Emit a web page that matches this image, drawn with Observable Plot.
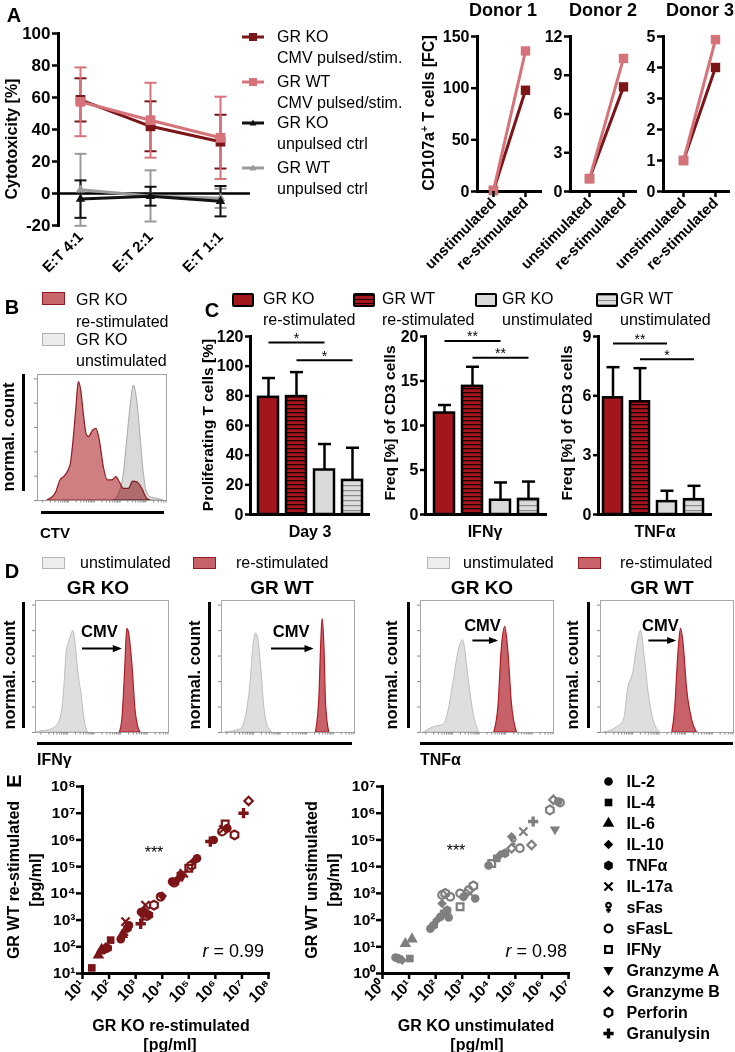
<!DOCTYPE html>
<html><head><meta charset="utf-8">
<script src="https://cdn.jsdelivr.net/npm/d3@7"></script>
<script src="https://cdn.jsdelivr.net/npm/@observablehq/plot@0.6"></script>
<style>
body{margin:0;background:#fff;}
#fig{position:relative;width:735px;height:1052px;font-family:"Liberation Sans",Arial,Helvetica,sans-serif;color:#000;overflow:hidden;background:#fff}
#fig svg.plot, #fig > svg{position:absolute}
</style></head>
<body>
<svg width="0" height="0" style="position:absolute">
<defs>
<pattern id="hatchRed" width="6" height="4" patternUnits="userSpaceOnUse">
<rect width="6" height="4" fill="#a3161c"/><rect y="0" width="6" height="1.3" fill="#200000"/>
</pattern>
<pattern id="hatchGray" width="6" height="5" patternUnits="userSpaceOnUse">
<rect width="6" height="5" fill="#dcdcdc"/><rect y="0" width="6" height="1.2" fill="#8a8a8a"/>
</pattern>
</defs></svg>
<div id="fig"></div>
<script>
// ================= DATA =================
// A (left): cytotoxicity
const etRatios = ["E:T 4:1", "E:T 2:1", "E:T 1:1"];
const cytoSeries = ["GR KO CMV pulsed/stim.", "GR WT CMV pulsed/stim.", "GR KO unpulsed ctrl", "GR WT unpulsed ctrl"];
const koCmvMean = [58.5, 42, 32.4];
const koCmvSd = [13.5, 15.6, 16.8];
const wtCmvMean = [57.3, 45.8, 34.8];
const wtCmvSd = [21.5, 23.4, 25.7];
const koCtrlMean = [-3.5, -1.7, -4.8];
const koCtrlSd = [11.7, 5.9, 9.5];
const wtCtrlMean = [2.3, -1.5, -3];
const wtCtrlSd = [22.5, 16, 6];
const cytoTicks = [-20, 0, 20, 40, 60, 80, 100];

// A (right): CD107a+ T cells fold change
const donors = ["Donor 1", "Donor 2", "Donor 3"];
const stimConds = ["unstimulated", "re-stimulated"];
const cd107aKO = [[1, 98], [1, 8.1], [1, 4.0]];
const cd107aWT = [[1, 136], [1, 10.3], [1, 4.9]];
const cd107aTicks = [[0, 50, 100, 150], [0, 3, 6, 9, 12], [0, 1, 2, 3, 4, 5]];

// B: CTV histogram (x: % of axis, y: % of max height)
const ctvRestim = [[7.5,0],[14,5.3],[17.8,15.9],[21.7,19.8],[25.6,27.8],[28.2,50.3],[30.2,74],[32,93.9],[33.9,87.3],[35.9,68.8],[38,52.9],[39.8,50.3],[43.2,55.6],[45.7,56.9],[48.3,47.6],[51.4,26.4],[54.5,15.9],[57.9,15.9],[61.2,18.5],[63.8,14.5],[66.9,9.3],[70.8,9.3],[74.2,15],[77.3,14.5],[81.2,9.3],[85,1.3],[87.6,0]];
const ctvUnstim = [[59.2,0],[64.3,7.9],[66.9,21.2],[69.5,47.6],[72.1,74],[74.7,91.3],[76.7,83.3],[79.3,58.2],[81.9,26.4],[84.5,7.9],[87.6,2.6],[92.8,1.3],[97.9,0]];
const histTicks = [0, 19.3, 38.6, 57.9, 77.2, 96.5];

// C: bar charts
const cGroups = ["GR KO re-stimulated", "GR WT re-stimulated", "GR KO unstimulated", "GR WT unstimulated"];
const prolifMean = [79, 79.5, 30, 23];
const prolifSd = [13, 16.5, 17.5, 22];
const ifngMean = [11.4, 14.4, 1.6, 1.7];
const ifngSd = [0.9, 2.2, 2.0, 2.0];
const tnfMean = [5.9, 5.7, 0.65, 0.75];
const tnfSd = [1.55, 1.7, 0.55, 0.7];
const prolifTicks = [0, 20, 40, 60, 80, 100, 120];
const ifngTicks = [0, 5, 10, 15, 20];
const tnfTicks = [0, 3, 6, 9];
// significance: [from group, to group, middle group, level, label]
const prolifSig = [[0, 2, 1, 116, "*"], [1, 3, 2, 104, "*"]];
const ifngSig = [[0, 2, 1, 19.5, "**"], [1, 3, 2, 17.6, "**"]];
const tnfSig = [[0, 2, 1, 8.65, "**"], [1, 3, 2, 7.85, "*"]];

// D: intracellular cytokine histograms (x: % of axis, y: % of height)
const dIfnKoUn = [[1,0],[2.5,0.5],[11,2],[16,5],[20,16],[22,39],[23.5,62],[24.7,67],[26.4,72],[28.4,77],[30.4,65],[32,47],[34.6,29],[37,9],[39.5,0]];
const dIfnKoRe = [[63.5,0],[65.4,11],[67.4,47],[69,78.5],[70.4,75],[72.8,52],[75.3,16],[77,5],[79,0]];
const dIfnWtUn = [[3,0],[14.6,2.5],[19.6,19],[22,39],[24,65],[26,75],[27.6,71],[29.6,52],[32,21.5],[34.7,5],[38.4,0]];
const dIfnWtRe = [[71,0],[73.6,26.5],[74.9,65],[76,86],[77.4,65],[78.6,21.5],[81,0]];
const dTnfKoUn = [[2.5,0],[10,4],[17.5,6],[21,16],[25,39],[28.75,62],[32,70],[33.75,62],[36,42],[40,14],[44,0]];
const dTnfKoRe = [[55.5,0],[58.75,21.5],[61,62],[63.75,80],[66,62],[68.75,21.5],[72.5,0]];
const dTnfWtUn = [[2.5,0],[12.5,4],[17.5,9],[21,34],[25,47],[27.5,65],[30.5,77],[33,59.5],[36,31.6],[40,9],[45,0]];
const dTnfWtRe = [[54,0],[56,16],[58.75,62],[60.5,78.5],[62.5,67],[65,34],[69,9],[72.5,0]];
// CMV annotation per D panel: [textX, textY, arrowX1, arrowX2, arrowY]
const cmvNotes = [[48, 76, 35, 63, 63.6], [52.3, 76, 37.2, 67.3, 63.6], [46.6, 81, 39, 56.4, 69.7], [45, 81, 36, 55, 69.7]];

// E: multiplex cytokine scatter (log10 pg/ml): [cytokine, GR KO, GR WT]
const cytokines = ["IL-2", "IL-4", "IL-6", "IL-10", "TNFα", "IL-17a", "sFas", "sFasL", "IFNy", "Granzyme A", "Granzyme B", "Perforin", "Granulysin"];
const scatterRestim = [
  ["IL-4",1.35,1.21],["IL-6",1.6,1.69],["IL-6",1.72,1.9],["IL-2",1.78,1.87],["IL-10",1.88,2.0],["TNFα",1.95,1.95],["IL-4",2.06,2.25],
  ["IL-2",2.44,2.28],["IL-10",2.56,2.44],["IL-6",2.5,2.45],["TNFα",2.69,2.69],["IL-17a",2.62,2.94],["IL-2",2.75,2.8],
  ["Granulysin",3.19,2.86],["sFas",3.25,3.12],["IL-10",3.31,3.37],["IL-2",3.2,3.3],["IL-17a",3.37,3.56],["TNFα",3.5,3.19],["sFasL",3.42,3.15],
  ["Perforin",3.69,3.56],["sFasL",3.94,3.87],["IL-10",4.0,3.9],
  ["IL-2",4.37,4.44],["sFasL",4.45,4.4],["IL-4",4.5,4.45],["IL-10",4.62,4.56],["Granzyme A",4.75,4.6],["TNFα",4.7,4.7],["IL-17a",4.81,4.75],
  ["IFNy",5.0,4.94],["Perforin",5.1,5.05],["IL-10",5.19,5.2],["IL-2",5.31,5.31],
  ["Granulysin",5.81,5.94],["IL-2",5.94,6.0],["sFasL",6.25,6.31],["IL-17a",6.3,6.4],["IFNy",6.37,6.6],["IL-2",6.45,6.44],["Perforin",6.72,6.19],
  ["Granulysin",7.06,7.0],["Granzyme B",7.25,7.46]
];
const scatterUnstim = [
  ["IL-2",0.49,0.6],["TNFα",0.61,0.55],["IL-10",0.74,0.5],["IL-4",1.03,0.56],["IL-6",0.86,1.12],["IL-6",1.11,1.29],
  ["IL-2",1.8,1.68],["TNFα",1.93,1.81],["IL-10",2.05,2.0],["IL-2",2.18,2.12],["IL-4",2.3,2.25],["TNFα",2.43,2.37],["IL-2",2.49,2.1],
  ["sFasL",2.24,2.94],["Perforin",2.36,3.0],["sFasL",2.55,2.87],["IL-10",2.24,2.62],["sFasL",2.92,3.0],["IFNy",2.92,2.5],["IL-2",3.05,2.87],
  ["sFasL",3.24,3.12],["Perforin",3.42,3.28],["IL-2",3.49,2.81],["IL-17a",3.3,3.0],
  ["IL-2",3.99,4.04],["IFNy",4.11,4.12],["IL-4",4.3,4.31],["IL-10",4.42,4.44],["TNFα",4.61,4.5],["Granzyme B",4.86,4.69],["IL-10",4.86,5.12],
  ["sFas",4.92,4.94],["sFasL",5.17,4.69],["IL-17a",5.3,5.31],["Granzyme B",5.61,4.81],["Granulysin",5.67,5.69],
  ["Perforin",6.3,6.12],["Granzyme B",6.43,6.5],["IL-2",6.61,6.44],["sFasL",6.68,6.4],["Granzyme A",6.49,5.37]
];
const restimTicks = [1e1, 1e2, 1e3, 1e4, 1e5, 1e6, 1e7, 1e8];
const unstimTicks = [1e0, 1e1, 1e2, 1e3, 1e4, 1e5, 1e6, 1e7];

// ================= HELPERS =================
const FONT = '"Liberation Sans", Arial, Helvetica, sans-serif';
const fig = document.getElementById("fig");
const S = {fontFamily: FONT, background: "transparent", overflow: "visible", color: "#000"};
function put(node, left, top) {
  node.style.position = "absolute"; node.style.left = left + "px"; node.style.top = top + "px";
  fig.appendChild(node); return node;
}
function txt(html, x, y, o = {}) {
  const d = document.createElement("div");
  d.innerHTML = html;
  const ax = o.anchor === "start" ? "0" : o.anchor === "end" ? "-100%" : "-50%";
  d.style.cssText = `position:absolute;left:${x}px;top:${y}px;font-size:${o.size || 16}px;line-height:1;white-space:nowrap;font-weight:${o.bold ? "bold" : "normal"};color:${o.color || "#000"};transform:translate(${ax},-50%)${o.rotate ? ` rotate(${o.rotate}deg)` : ""};`;
  fig.appendChild(d); return d;
}
function box(x, y, w, h, css) {
  const d = document.createElement("div");
  d.style.cssText = `position:absolute;left:${x}px;top:${y}px;width:${w}px;height:${h}px;box-sizing:border-box;${css}`;
  fig.appendChild(d); return d;
}
const SUP = "⁰¹²³⁴⁵⁶⁷⁸⁹";
const pow10 = d => "10" + String(Math.round(Math.log10(d))).split("").map(c => SUP[+c]).join("");
const plain = d => String(d);

// custom symbols
const capSym = {draw(c, s) { const w = Math.sqrt(s / Math.PI); c.moveTo(-w, 0); c.lineTo(w, 0); }};
const downTri = {draw(c, s) { const r = Math.sqrt(s / Math.PI) * 1.2; c.moveTo(-r, -r * 0.7); c.lineTo(r, -r * 0.7); c.lineTo(0, r * 1.0); c.closePath(); }};
const rightTri = {draw(c, s) { const r = Math.sqrt(s / Math.PI); c.moveTo(r, 0); c.lineTo(-r, -r * 0.8); c.lineTo(-r, r * 0.8); c.closePath(); }};
const sFasSym = {draw(c, s) { const r = Math.sqrt(s / Math.PI) * 1.35; const cr = r * 0.45, cy = -r * 0.45;
  c.moveTo(cr, cy); c.arc(0, cy, cr, 0, 2 * Math.PI); c.moveTo(0, cy + cr); c.lineTo(0, r * 1.0); c.moveTo(-r * 0.45, r * 0.5); c.lineTo(r * 0.45, r * 0.5); }};

const darkRed = "#7a1518", pink = "#d6737a", barRed = "#a3161c";

// ================= PANEL A (left) =================
txt("A", 14, 15, {bold: true, size: 20});
{
  const means = [koCmvMean, wtCmvMean, koCtrlMean, wtCtrlMean];
  const sds = [koCmvSd, wtCmvSd, koCtrlSd, wtCtrlSd];
  const colors = [darkRed, pink, "#111111", "#9a9a9a"];
  const marks = [Plot.frame({anchor: "left", strokeWidth: 3}), Plot.ruleY([0], {strokeWidth: 2.5})];
  const order = [3, 2, 0, 1];
  const rowsOf = si => etRatios.map((r, i) => ({r, m: means[si][i], sd: sds[si][i]}));
  for (const si of order) {
    const rows = rowsOf(si), col = colors[si];
    marks.push(
      Plot.ruleX(rows, {x: "r", y1: d => d.m - d.sd, y2: d => d.m + d.sd, stroke: col, strokeWidth: 2}),
      Plot.dot(rows, {x: "r", y: d => d.m - d.sd, symbol: capSym, r: 6, stroke: col, fill: "none", strokeWidth: 2}),
      Plot.dot(rows, {x: "r", y: d => d.m + d.sd, symbol: capSym, r: 6, stroke: col, fill: "none", strokeWidth: 2})
    );
  }
  for (const si of order) {
    const rows = rowsOf(si), col = colors[si];
    marks.push(
      Plot.line(rows, {x: "r", y: "m", stroke: col, strokeWidth: 3}),
      Plot.dot(rows, {x: "r", y: "m", symbol: si < 2 ? "square" : "triangle", r: si < 2 ? 5.5 : 3.5, fill: col, stroke: "none"})
    );
  }
  marks.push(
    Plot.axisY({ticks: cytoTicks, tickFormat: plain, tickSize: 6, strokeWidth: 2.5, tickPadding: 2, fontSize: 17, fontWeight: "bold", label: null}),
    Plot.axisX({tickRotate: -45, tickSize: 0, tickPadding: 9, fontSize: 15, fontWeight: "bold", label: null})
  );
  put(Plot.plot({
    width: 252, height: 290, marginLeft: 58, marginRight: 2, marginTop: 33, marginBottom: 65, style: S,
    x: {type: "point", domain: etRatios, range: [80, 220], padding: 0},
    y: {domain: [-20, 100]},
    marks
  }), 0, 0);
  txt("Cytotoxicity [%]", 12, 139, {bold: true, size: 16, rotate: -90});
  // legend
  const legY = [37, 82, 123, 168];
  const legLines = [["GR KO", "CMV pulsed/stim."], ["GR WT", "CMV pulsed/stim."], ["GR KO", "unpulsed ctrl"], ["GR WT", "unpulsed ctrl"]];
  legY.forEach((y, i) => {
    const ns = "http://www.w3.org/2000/svg";
    const sv = document.createElementNS(ns, "svg");
    sv.setAttribute("width", 24); sv.setAttribute("height", 12);
    const mark = i < 2
      ? `<rect x="8" y="2" width="8" height="8" fill="${colors[i]}"/>`
      : `<path d="M12 2.5 L15.5 8.5 L8.5 8.5 Z" fill="${colors[i]}"/>`;
    sv.innerHTML = `<line x1="1" x2="23" y1="6" y2="6" stroke="${colors[i]}" stroke-width="3"/>` + mark;
    put(sv, 241, y - 6);
    txt(legLines[i][0], 277, y, {anchor: "start", size: 16});
    txt(legLines[i][1], 277, y + 21, {anchor: "start", size: 16});
  });
}

// ================= PANEL A (right) =================
{
  const layout = [
    {left: 420, width: 130, ml: 57, mr: 10, range: [73, 105], title: 503},
    {left: 535, width: 110, ml: 35, mr: 10, range: [54, 88], title: 603},
    {left: 628, width: 107, ml: 35, mr: 7, range: [55, 87], title: 700}
  ];
  donors.forEach((dn, i) => {
    const L = layout[i];
    const rows = stimConds.map((c, j) => ({c, ko: cd107aKO[i][j], wt: cd107aWT[i][j]}));
    const ticks = cd107aTicks[i];
    put(Plot.plot({
      width: L.width, height: 290, marginLeft: L.ml, marginRight: L.mr, marginTop: 36, marginBottom: 99, style: S,
      x: {type: "point", domain: stimConds, range: L.range, padding: 0},
      y: {domain: [0, ticks[ticks.length - 1]]},
      marks: [
        Plot.frame({anchor: "left", strokeWidth: 3}),
        Plot.frame({anchor: "bottom", strokeWidth: 3}),
        Plot.line(rows, {x: "c", y: "ko", stroke: darkRed, strokeWidth: 3}),
        Plot.dot(rows, {x: "c", y: "ko", symbol: "square", r: 5.3, fill: darkRed, stroke: "none"}),
        Plot.line(rows, {x: "c", y: "wt", stroke: pink, strokeWidth: 3}),
        Plot.dot(rows, {x: "c", y: "wt", symbol: "square", r: 5.3, fill: pink, stroke: "none"}),
        Plot.axisY({ticks, tickFormat: plain, tickSize: 6, strokeWidth: 2.5, tickPadding: 2, fontSize: 16, fontWeight: "bold", label: null}),
        Plot.axisX({tickRotate: -45, tickSize: 6, strokeWidth: 2.5, tickPadding: 3, fontSize: 15, fontWeight: "bold", label: null})
      ]
    }), L.left, 0);
    txt(dn, L.title, 10, {bold: true, size: 18});
  });
  txt('CD107a<span style="font-size:0.65em;position:relative;top:-0.55em">+</span> T cells [FC]', 429, 113, {bold: true, size: 16, rotate: -90});
}

// ================= PANEL B =================
txt("B", 12, 307, {bold: true, size: 20});
box(42, 292, 23, 13, "background:#c7676c;border:1px solid #8f1c20;");
box(42, 333, 23, 13, "background:#ececec;border:1px solid #b0b0b0;");
txt("GR KO", 76, 300, {anchor: "start"});
txt("re-stimulated", 76, 322, {anchor: "start"});
txt("GR KO", 76, 340, {anchor: "start"});
txt("unstimulated", 76, 361, {anchor: "start"});
const flowTicks = [];
for (let d = 0; d < 5; d++) for (let k = 1; k < 10; k++) { const v = 4 + 20 * (d + Math.log10(k)); if (v < 100) flowTicks.push(v); }
put(Plot.plot({
  width: 141, height: 141, marginLeft: 7, marginRight: 5, marginTop: 10, marginBottom: 5, style: S,
  x: {domain: [0, 100]}, y: {domain: [0, 100]},
  marks: [
    Plot.areaY(ctvUnstim, {x: d => d[0], y: d => d[1], curve: "monotone-x", fill: "#d9d9d9", stroke: "#a8a8a8", strokeWidth: 1}),
    Plot.areaY(ctvRestim, {x: d => d[0], y: d => d[1], curve: "monotone-x", fill: "#c7676c", fillOpacity: 0.85, stroke: "#8f1c20", strokeWidth: 1.2, mixBlendMode: "multiply"}),
    Plot.frame({stroke: "#a0a0a0", strokeWidth: 1}),
    Plot.axisY({ticks: histTicks, tickSize: 3, tickFormat: () => "", stroke: "#888", label: null}),
    Plot.axisX({ticks: flowTicks, tickSize: 2.5, tickFormat: () => "", stroke: "#888", label: null})
  ]
}), 30, 364);
box(22, 374, 3, 117, "background:#000;");
box(41, 511, 123, 3, "background:#000;");
txt("normal. count", 8, 437, {bold: true, size: 16.5, rotate: -90});
txt("CTV", 40, 532, {bold: true, size: 15, anchor: "start"});

// ================= PANEL C =================
txt("C", 212, 310, {bold: true, size: 20});
{
  const swCss = [
    `background:${barRed};`,
    `background:repeating-linear-gradient(to bottom,#200000 0 1.3px,${barRed} 1.3px 4px);`,
    `background:#d9d9d9;`,
    `background:repeating-linear-gradient(to bottom,#8a8a8a 0 1.2px,#dcdcdc 1.2px 4.5px);`
  ];
  const swX = [232, 353, 475, 596], tX = [263, 382, 502, 620];
  const l1 = ["GR KO", "GR WT", "GR KO", "GR WT"], l2 = ["re-stimulated", "re-stimulated", "unstimulated", "unstimulated"];
  swX.forEach((x, i) => {
    box(x, 293, 22, 14, swCss[i] + "border:2.5px solid #000;border-radius:2px;");
    txt(l1[i], tX[i], 299, {anchor: "start"});
    txt(l2[i], tX[i], 320, {anchor: "start"});
  });
  const fills = [barRed, "url(#hatchRed)", "#d9d9d9", "url(#hatchGray)"];
  function barChart(means, sds, ticks, sig, left, width, ml, mr, range) {
    const rows = cGroups.map((g, i) => ({g, m: means[i], sd: sds[i], f: fills[i]}));
    const sigRows = sig.map(([a, b, mid, y, t]) => ({a: cGroups[a], b: cGroups[b], mid: cGroups[mid], y, t}));
    put(Plot.plot({
      width, height: 230, marginLeft: ml, marginRight: mr, marginTop: 16, marginBottom: 36, style: S,
      x: {type: "band", domain: cGroups, range, paddingInner: 0.3, paddingOuter: 0, axis: null},
      y: {domain: [0, ticks[ticks.length - 1]]},
      color: {type: "identity"},
      marks: [
        Plot.ruleX(rows, {x: "g", y1: "m", y2: d => d.m + d.sd, strokeWidth: 2.5}),
        Plot.dot(rows, {x: "g", y: d => d.m + d.sd, symbol: capSym, r: 6.5, stroke: "#000", fill: "none", strokeWidth: 2.5}),
        Plot.barY(rows, {x: "g", y: "m", fill: "f", stroke: "#000", strokeWidth: 2.5}),
        Plot.link(sigRows, {x1: "a", x2: "b", y1: "y", y2: "y", stroke: "#000", strokeWidth: 2}),
        Plot.text(sigRows, {x: "mid", y: "y", text: "t", dy: -4, fontSize: 14}),
        Plot.frame({anchor: "left", strokeWidth: 3}),
        Plot.frame({anchor: "bottom", strokeWidth: 3}),
        Plot.axisY({ticks, tickFormat: plain, tickSize: 5, strokeWidth: 2.5, tickPadding: 2, fontSize: 16, fontWeight: "bold", label: null})
      ]
    }), left, 320);
  }
  barChart(prolifMean, prolifSd, prolifTicks, prolifSig, 190, 180, 60, 2, [67.5, 172]);
  barChart(ifngMean, ifngSd, ifngTicks, ifngSig, 370, 180, 55, 5, [63, 167.7]);
  barChart(tnfMean, tnfSd, tnfTicks, tnfSig, 545, 190, 53, 25, [57, 159.5]);
  txt("Proliferating T cells [%]", 208, 425, {bold: true, size: 15.5, rotate: -90});
  txt("Freq [%] of CD3 cells", 390, 423, {bold: true, size: 15.5, rotate: -90});
  txt("Freq [%] of CD3 cells", 567, 423, {bold: true, size: 15.5, rotate: -90});
  txt("Day 3", 310, 532, {bold: true, size: 16});
  txt("IFNγ", 485, 532, {bold: true, size: 16});
  txt("TNFα", 655, 532, {bold: true, size: 16});
}

// ================= PANEL D =================
txt("D", 12, 571, {bold: true, size: 20});
{
  [[42, 80, 193, 236], [427, 463, 578, 620]].forEach(([s1, t1, s2, t2]) => {
    box(s1, 557, 23, 12, "background:#ededed;border:1px solid #b5b5b5;");
    txt("unstimulated", t1, 563, {anchor: "start"});
    box(s2, 557, 23, 12, "background:#c8626a;border:1px solid #8f1c20;");
    txt("re-stimulated", t2, 563, {anchor: "start"});
  });
  const panels = [
    {un: dIfnKoUn, re: dIfnKoRe, left: 30, title: "GR KO", tx: 98, bar: 22, lab: 9},
    {un: dIfnWtUn, re: dIfnWtRe, left: 216, title: "GR WT", tx: 282, bar: 208, lab: 194},
    {un: dTnfKoUn, re: dTnfKoRe, left: 415, title: "GR KO", tx: 482, bar: 407, lab: 391},
    {un: dTnfWtUn, re: dTnfWtRe, left: 595, title: "GR WT", tx: 662, bar: 587, lab: 572}
  ];
  panels.forEach((p, i) => {
    const n = cmvNotes[i];
    const note = [{tx: n[0], ty: n[1], x1: n[2], x2: n[3], y: n[4]}];
    put(Plot.plot({
      width: 143, height: 142, marginLeft: 5, marginRight: 5, marginTop: 5, marginBottom: 5, style: S,
      x: {domain: [0, 100]}, y: {domain: [0, 100]},
      marks: [
        Plot.areaY(p.un, {x: d => d[0], y: d => d[1], curve: "monotone-x", fill: "#dedede", stroke: "#bdbdbd", strokeWidth: 1}),
        Plot.areaY(p.re, {x: d => d[0], y: d => d[1], curve: "monotone-x", fill: "#c8626a", stroke: "#b01c22", strokeWidth: 1.2}),
        Plot.frame({stroke: "#a8a8a8", strokeWidth: 1}),
        Plot.axisY({ticks: histTicks, tickSize: 3, tickFormat: () => "", stroke: "#888", label: null}),
        Plot.axisX({ticks: flowTicks, tickSize: 2.5, tickFormat: () => "", stroke: "#888", label: null}),
        Plot.link(note, {x1: "x1", x2: "x2", y1: "y", y2: "y", stroke: "#000", strokeWidth: 2}),
        Plot.dot(note, {x: "x2", y: "y", symbol: rightTri, r: 4.5, dx: -2, fill: "#000", stroke: "none"}),
        Plot.text(note, {x: "tx", y: "ty", text: () => "CMV", fontSize: 16.5, fontWeight: "bold"})
      ]
    }), p.left, 595);
    txt(p.title, p.tx, 587, {bold: true, size: 19});
    box(p.bar, 602, 3, 126, "background:#000;");
    txt("normal. count", p.lab, 675, {bold: true, size: 16.5, rotate: -90});
  });
  box(37, 742, 315, 3, "background:#000;");
  box(420, 742, 313, 3, "background:#000;");
  txt("IFNγ", 37, 760, {bold: true, size: 16, anchor: "start"});
  txt("TNFα", 420, 760, {bold: true, size: 16, anchor: "start"});
}

// ================= PANEL E =================
txt("E", 14, 781, {bold: true, size: 20, rotate: -90});
const cytoSymbol = {"IL-2": "circle", "IL-4": "square", "IL-6": "triangle", "IL-10": "diamond2", "TNFα": "hexagon",
  "IL-17a": "times", "sFas": sFasSym, "sFasL": "circle", "IFNy": "square", "Granzyme A": downTri,
  "Granzyme B": "diamond2", "Perforin": "hexagon", "Granulysin": "cross"};
const cytoOpen = new Set(["IL-17a", "sFas", "sFasL", "IFNy", "Granzyme B", "Perforin"]);
const symScale = {domain: cytokines, range: cytokines.map(c => cytoSymbol[c])};
function scatter(rows, dom, ticks, color, left) {
  const data = rows.map(([c, lx, ly]) => ({c, x: 10 ** lx, y: 10 ** ly}));
  put(Plot.plot({
    width: 280, height: 282, marginLeft: 82, marginRight: 12, marginTop: 16, marginBottom: 79, style: S,
    x: {type: "log", domain: dom}, y: {type: "log", domain: dom},
    symbol: symScale,
    marks: [
      Plot.dot(data.filter(d => !cytoOpen.has(d.c)), {x: "x", y: "y", symbol: "c", fill: color, stroke: "none", r: 4.3}),
      Plot.dot(data.filter(d => cytoOpen.has(d.c)), {x: "x", y: "y", symbol: "c", fill: "none", stroke: color, strokeWidth: 2.2, r: 3.8}),
      Plot.frame({anchor: "left", strokeWidth: 3}),
      Plot.frame({anchor: "bottom", strokeWidth: 3}),
      Plot.axisY({ticks, tickFormat: pow10, tickSize: 6, strokeWidth: 2.5, tickPadding: 1, fontSize: 15.5, fontWeight: "bold", label: null}),
      Plot.axisX({ticks, tickFormat: pow10, tickSize: 6, strokeWidth: 2.5, tickRotate: -45, tickPadding: 3, fontSize: 15.5, fontWeight: "bold", label: null})
    ]
  }), left, 770);
}
scatter(scatterRestim, [1e1, 1e8], restimTicks, "#7b1517", 0);
scatter(scatterUnstim, [1e0, 1e7], unstimTicks, "#7f7f7f", 300);
txt("GR WT re-stimulated", 14, 880, {bold: true, size: 16, rotate: -90});
txt("[pg/ml]", 36, 880, {bold: true, size: 16, rotate: -90});
txt("GR WT unstimulated", 312, 880, {bold: true, size: 16, rotate: -90});
txt("[pg/ml]", 334, 880, {bold: true, size: 16, rotate: -90});
txt("GR KO re-stimulated", 171, 1026, {bold: true, size: 16});
txt("[pg/ml]", 170, 1045, {bold: true, size: 16});
txt("GR KO unstimulated", 476, 1026, {bold: true, size: 16});
txt("[pg/ml]", 477, 1045, {bold: true, size: 16});
txt("***", 154, 853, {size: 16});
txt("***", 456, 851, {size: 16});
txt("<i>r</i> = 0.99", 264, 951, {size: 18, anchor: "end"});
txt("<i>r</i> = 0.98", 567, 951, {size: 18, anchor: "end"});
// legend
put(Plot.plot({
  width: 142, height: 285, marginLeft: 0, marginRight: 0, marginTop: 12, marginBottom: 13, style: S,
  x: {domain: [0, 1], axis: null},
  y: {type: "point", domain: cytokines, range: [12, 272], padding: 0, axis: null},
  symbol: symScale,
  marks: [
    Plot.dot(cytokines.filter(c => !cytoOpen.has(c)), {y: d => d, symbol: d => d, frameAnchor: "left", dx: 15, r: 4.3, fill: "#000", stroke: "none"}),
    Plot.dot(cytokines.filter(c => cytoOpen.has(c)), {y: d => d, symbol: d => d, frameAnchor: "left", dx: 15, r: 3.8, fill: "none", stroke: "#000", strokeWidth: 2.2}),
    Plot.text(cytokines, {y: d => d, text: d => d, frameAnchor: "left", dx: 33, textAnchor: "start", fontSize: 16, fontWeight: "bold"})
  ]
}), 593, 765);
</script>
</body></html>
